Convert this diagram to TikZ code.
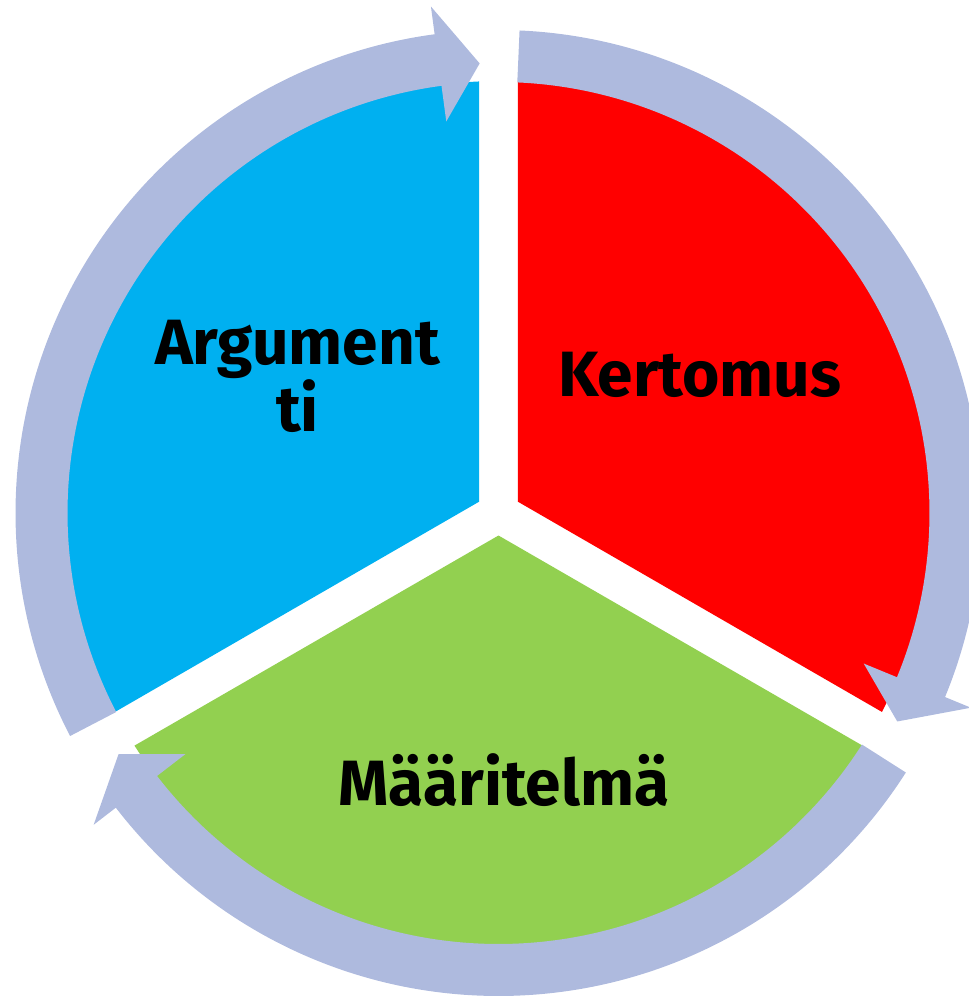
\documentclass[tikz,border=0pt]{standalone}
\usepackage{fontspec}
\setsansfont{Fira Sans}
\usepackage{tikz}

\definecolor{argblue}{HTML}{00B0F0}
\definecolor{kertred}{HTML}{FF0000}
\definecolor{maargreen}{HTML}{92D050}
\definecolor{ringlav}{HTML}{AEBADE}

\begin{document}
\begin{tikzpicture}[
    x=1pt, y=1pt,
    font=\sffamily\bfseries\fontsize{64}{65}\selectfont,
    sector/.style={draw=none},
    ringarrow/.style={fill=ringlav, draw=none},
    lbl/.style={anchor=base, inner sep=0pt, align=center, text=black}
]
\useasboundingbox (-498.5,-486) rectangle (470.5,513);
\clip (-498.5,-486) rectangle (470.5,513);

% three sectors, split by a white gap
\foreach \g/\col in {90/argblue, 210/maargreen, -30/kertred} {
    \pgfmathsetmacro{\midang}{\g+60}
    \pgfmathsetmacro{\startang}{\g+2.58}
    \pgfmathsetmacro{\endang}{\g+117.42}
    \fill[sector, \col] (\midang:22.5) -- (\startang:432)
        arc[start angle=\startang, end angle=\endang, radius=432] -- cycle;
}

% circular arrows round the sectors
\foreach \g in {210, 90, -30} {
    \pgfmathsetmacro{\tailang}{\g-2.5}
    \pgfmathsetmacro{\backang}{\g-112.4}
    \pgfmathsetmacro{\tipang}{\g-117.6}
    \fill[ringarrow] (\tailang:483)
        arc[start angle=\tailang, end angle=\backang, radius=483]
        -- (\backang:511) -- (\tipang:450) -- (\backang:395) -- (\backang:431)
        arc[start angle=\backang, end angle=\tailang, radius=431] -- cycle;
}

\node[lbl] (argumentti) at (-201,81) {Argument\\ti};
\node[lbl] (kertomus) at (201.5,116) {Kertomus};
\node[lbl] (maaritelma) at (5.5,-292) {Määritelmä};
\end{tikzpicture}
\end{document}
